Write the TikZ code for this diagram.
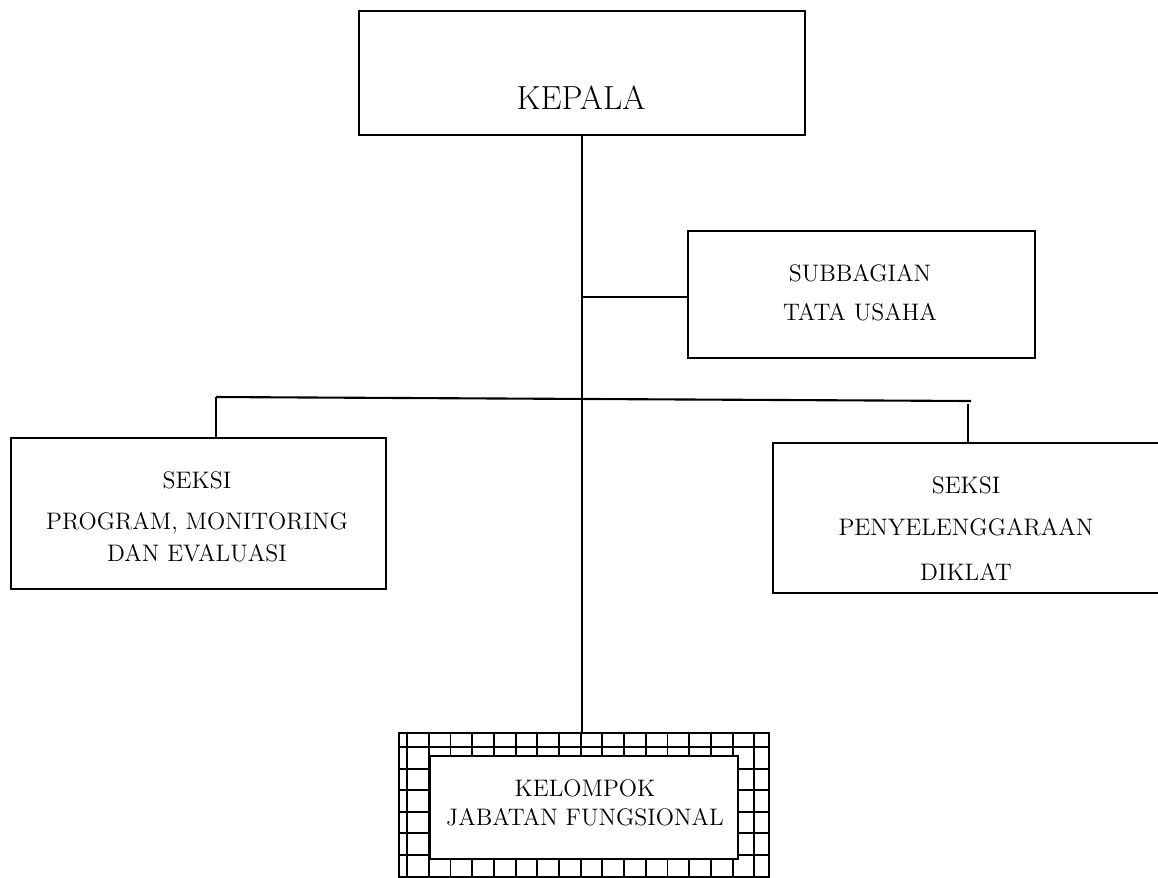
\documentclass[tikz,border=0pt]{standalone}
\usepackage{tikz}
\usetikzlibrary{positioning,calc}
\tikzstyle{box} = [
    rectangle, draw,
    line width=1.2pt,
    inner sep=0pt,
    anchor=north west,
]
\tikzstyle{unit} = [
    inner sep=0pt,
    font=\fontsize{13.6}{16}\selectfont,
]
\tikzstyle{head} = [
    inner sep=0pt,
    font=\fontsize{19}{23}\selectfont,
]
\tikzstyle{link} = [line width=1.2pt]
\tikzstyle{gridline} = [line width=1.1pt]

\begin{document}
\begin{tikzpicture}[x=0.02cm,y=-0.02cm]
    \useasboundingbox (0,0) rectangle (1158,877);

    % boxes
    \node (kepala) at (358,10) [box, minimum width=8.92cm, minimum height=2.48cm] {};
    \node (subbag) at (687,230) [box, minimum width=6.94cm, minimum height=2.54cm] {};
    \node (program) at (10,437) [box, minimum width=7.5cm, minimum height=3.02cm] {};
    \node (diklat) at (772,442) [box, minimum width=7.8cm, minimum height=3.0cm] {};
    \node (fungsi) at (398,732) [box, minimum width=7.4cm, minimum height=2.88cm] {};

    % grid of the functional group
    \begin{scope}
        \clip (fungsi.north west) rectangle (fungsi.south east);
        \foreach \k in {0,...,16}
            \draw [gridline] (407.1+21.7*\k, 732) -- (407.1+21.7*\k, 877);
        \foreach \k in {0,...,5}
            \draw [gridline] (398, 747+21.6*\k) -- (768, 747+21.6*\k);
    \end{scope}
    \node (fungsiin) at (429,755) [box, fill=white, minimum width=6.16cm, minimum height=2.06cm] {};

    % texts
    \node (kepalatxt) at (581,98) [head] {KEPALA};
    \node (subbag1) at (860,273) [unit] {SUBBAGIAN};
    \node (subbag2) at (860,312) [unit] {TATA USAHA};
    \node (program1) at (197,480) [unit] {SEKSI};
    \node (program2) at (197,523) [unit] {PROGRAM, MONITORING};
    \node (program3) at (197,553) [unit] {DAN EVALUASI};
    \node (diklat1) at (966,485) [unit] {SEKSI};
    \node (diklat2) at (966,527) [unit] {PENYELENGGARAAN};
    \node (diklat3) at (966,572) [unit] {DIKLAT};
    \node (fungsi1) at (585,788) [unit] {KELOMPOK};
    \node (fungsi2) at (585,817) [unit] {JABATAN FUNGSIONAL};

    % lines
    \coordinate (trunk) at (582,134);
    \coordinate (barL) at (216,397);
    \coordinate (barR) at (971,401);
    \coordinate (dropR) at (968,404);
    \draw [link] (trunk) -- (trunk |- fungsi.north);
    \draw [link] (trunk |- 0,297) -- (subbag.west |- 0,297);
    \draw [link] (barL) -- (barR);
    \draw [link] (barL) -- (barL |- program.north);
    \draw [link] (dropR) -- (dropR |- diklat.north);

\end{tikzpicture}
\end{document}
